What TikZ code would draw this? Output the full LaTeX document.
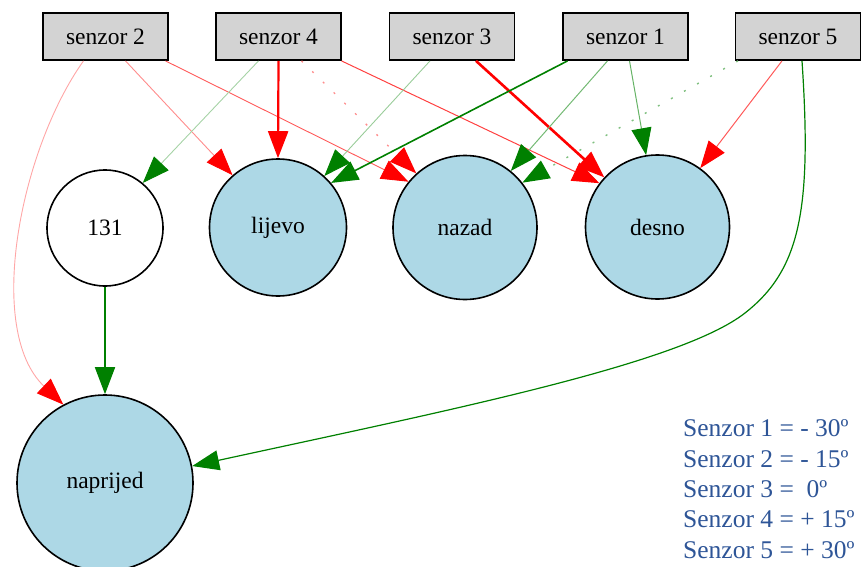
\documentclass[tikz,border=0pt]{standalone}
\usepackage{fontspec}
\setmainfont{Liberation Serif}
\usetikzlibrary{arrows.meta}

\definecolor{boxgray}{HTML}{D3D3D3}
\definecolor{outblue}{HTML}{ADD8E6}
\definecolor{gvgreen}{HTML}{008000}
\definecolor{legblue}{HTML}{2E5597}
\newcommand{\graphfont}{\fontsize{23.5}{28}\selectfont}
\newcommand{\legendfont}{\fontsize{25.5}{30}\selectfont}

\tikzset{
  sensor/.style={draw, line width=1.8pt, fill=boxgray, minimum width=125pt, minimum height=47pt, inner sep=0pt, font=\graphfont},
  outcirc/.style={circle, draw, line width=1.6pt, fill=outblue, inner sep=0pt, font=\graphfont},
  hidcirc/.style={circle, draw, line width=1.6pt, fill=white, inner sep=0pt, font=\graphfont},
  redtip/.style={-{Triangle[length=27pt, width=20pt, color=red]}},
  greentip/.style={-{Triangle[length=27pt, width=20pt, color=gvgreen]}},
  sparsedots/.style={dash pattern=on 2pt off 13pt},
  legendtxt/.style={anchor=base west, inner sep=0pt, text=legblue, font=\legendfont}
}

\begin{document}
\begin{tikzpicture}[x=1pt, y=-1pt]
\useasboundingbox (0,0) rectangle (862,567);

\node[sensor] (s2) at (105.5,36.5) {senzor 2};
\node[sensor] (s4) at (278.5,36.5) {senzor 4};
\node[sensor] (s3) at (452,36.5) {senzor 3};
\node[sensor] (s1) at (625.5,36.5) {senzor 1};
\node[sensor] (s5) at (798,36.5) {senzor 5};

\node[hidcirc, minimum size=116pt] (c131) at (105,228) {131};
\node[outcirc, minimum size=137pt] (lij) at (278,227.5) {lijevo};
\node[outcirc, minimum size=144pt] (naz) at (465,227.5) {nazad};
\node[outcirc, minimum size=144pt] (des) at (657.5,227) {desno};
\node[outcirc, minimum size=176pt] (nap) at (105,483) {naprijed};

\draw[redtip, red!35, line width=0.9pt] ([xshift=-22pt]s2.south) .. controls (20,150) and (-15,330) .. (nap.118);
\draw[redtip, red!45, line width=0.9pt] ([xshift=20pt]s2.south) -- (lij.131);
\draw[redtip, red!65, line width=0.9pt] ([xshift=60pt]s2.south) -- (naz.141);

\draw[greentip, gvgreen!35, line width=0.9pt] ([xshift=-20pt]s4.south) -- (c131.50);
\draw[redtip, red, line width=2.2pt] (s4.south) -- (lij.north);
\draw[redtip, red!45, line width=1.3pt, sparsedots] ([xshift=23pt]s4.south) -- (naz.132);
\draw[redtip, red!75, line width=1pt] ([xshift=63pt]s4.south) -- (des.143);

\draw[greentip, gvgreen!40, line width=0.9pt] ([xshift=-22pt]s3.south) -- (lij.48);
\draw[redtip, red, line width=2.6pt] ([xshift=24pt]s3.south) -- (des.137);

\draw[greentip, gvgreen, line width=1.6pt] ([xshift=-58pt]s1.south) -- (lij.40);
\draw[greentip, gvgreen!55, line width=1pt] ([xshift=-18pt]s1.south) -- (naz.51);
\draw[greentip, gvgreen!60, line width=1pt] ([xshift=4pt]s1.south) -- (des.99);

\draw[greentip, gvgreen!50, line width=1.4pt, sparsedots] ([xshift=-60pt]s5.south) -- (naz.38);
\draw[redtip, red!65, line width=1pt] ([xshift=-16pt]s5.south) -- (des.54);
\draw[greentip, gvgreen, line width=1.2pt] ([xshift=4pt]s5.south) .. controls (812,210) and (800,270) .. (745,313) .. controls (680,364) and (450,410) .. (nap.11);

\draw[greentip, gvgreen, line width=1.8pt] (c131.south) -- (nap.north);

\node[legendtxt] (leg1) at (683,436.7) {Senzor 1 = - 30º};
\node[legendtxt] (leg2) at (683,467.1) {Senzor 2 = - 15º};
\node[legendtxt] (leg3) at (683,497.5) {Senzor 3 = \ 0º};
\node[legendtxt] (leg4) at (683,527.9) {Senzor 4 = + 15º};
\node[legendtxt] (leg5) at (683,558.3) {Senzor 5 = + 30º};

\end{tikzpicture}
\end{document}
